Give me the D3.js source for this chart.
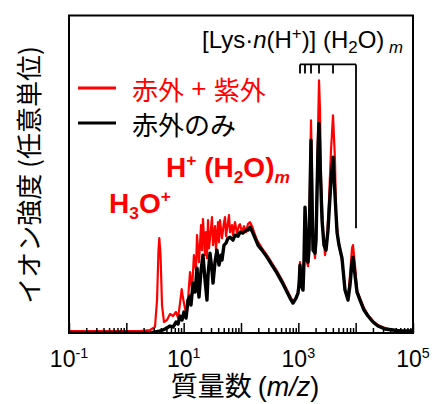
<!DOCTYPE html>
<html><head><meta charset="utf-8">
<script src="https://cdn.jsdelivr.net/npm/d3@7"></script>
<style>body{margin:0;background:#fff} svg{display:block}</style>
</head><body><svg id="c" width="438" height="404"></svg>
<script>
// ---- data (m/z, intensity in arbitrary units) ----
const redMz = [0.1,0.347,1.73,2.59,3.16,3.43,3.64,3.76,3.95,4.19,4.54,5.12,5.78,6.52,7.35,7.97,8.64,9.24,9.74,10.6,11.3,11.9,12.9,14.0,15.1,16.4,17.1,18.5,20.1,20.9,21.7,23.6,24.5,25.5,26.6,27.7,30.0,31.2,32.5,35.2,36.6,39.7,41.3,43.0,46.6,50.5,52.6,54.8,59.3,61.8,64.3,69.7,72.5,78.6,85.2,92.3,96.1,104,113,122,132,144,156,169,190,232,284,347,425,519,635,716,807,911,987,1030,1069,1113,1206,1256,1307,1361,1417,1475,1535,1598,1663,1731,1803,1953,2033,2117,2294,2388,2486,2694,2919,3163,3427,3715,4025,4362,4541,4920,5332,5776,6518,7353,7965,8635,8987,9739,10550,11900,13970,16410,20060,24520,32480,44790,59330,100000];
const redInt = [2,2,2,3,6,33,83,95,78,28,11,13,19,17,21,15,30,44,35,24,18,33,61,43,78,63,98,71,108,83,114,78,101,75,113,85,105,116,88,107,83,111,91,113,95,111,116,97,111,118,101,108,98,111,100,108,109,101,107,101,109,111,107,101,93,85,78,70,62,53,43,37,31,35,41,53,71,53,45,68,118,98,71,67,83,153,213,163,93,75,88,153,253,223,153,103,78,93,133,183,218,173,118,95,83,73,43,36,58,85,88,68,43,35,25,18,12,8,5,3,2,2];
const blackMz = [0.1,2.59,3.95,4.73,5.78,6.52,7.35,7.97,8.64,9.36,10.1,11.0,11.9,12.9,13.4,14.6,15.8,17.1,17.8,18.5,20.1,21.7,23.6,25.5,26.6,28.8,31.2,32.5,35.2,38.1,41.3,44.8,46.6,50.5,54.8,59.3,64.3,72.5,78.6,88.7,96.1,108,122,132,144,156,176,198,232,284,347,425,519,635,716,807,911,987,1030,1069,1113,1206,1256,1307,1361,1417,1475,1535,1663,1731,1803,1953,2033,2200,2294,2388,2590,2800,3040,3290,3715,4025,4362,4730,5122,5776,6518,7353,7965,8635,8987,9739,10550,11900,13970,16410,20060,24520,32480,44790,59330,100000];
const blackInt = [0,0,2,4,7,6,11,9,17,13,21,15,33,37,28,50,41,65,48,36,63,78,53,33,58,80,63,50,71,83,68,78,73,88,90,95,96,93,98,97,101,100,103,103,106,102,95,88,83,76,68,60,51,41,35,30,35,40,48,68,50,43,73,126,103,73,71,83,193,133,83,80,93,183,210,173,113,88,83,103,153,176,138,101,88,75,43,33,48,71,76,58,41,33,23,17,11,7,4,3,2,2];
const tickLabelExps = [-1, 1, 3, 5];
const bracketMz = [1069, 1307, 1663, 2294, 4025];
const bracketEndMz = 10140;
const bracketTop = 269, bracketBottom = 105;
const legendLabels = [["赤外", " + ", "紫外"], ["赤外のみ"]];
const seriesColors = ["#ff0000", "#000000"];

// ---- layout ----
const LAT = "'Liberation Sans', Arial, sans-serif";
const CJK = "'Noto Sans CJK JP', 'Noto Sans CJK SC', sans-serif";
const svg = d3.select("#c");
const M = {l:69, r:413, t:15.5, b:333};
const x = d3.scaleLog().domain([0.1, 1e5]).range([M.l, M.r]);
const y = d3.scaleLinear().domain([0, 318]).range([M.b, M.t]);

svg.append("defs").append("clipPath").attr("id","clip")
  .append("rect").attr("x",M.l).attr("y",M.t).attr("width",M.r-M.l).attr("height",M.b-M.t);

const line = d3.line().x(d=>x(d[0])).y(d=>y(d[1]));
const red = redMz.map((m,i)=>[m, redInt[i]]);
const blk = blackMz.map((m,i)=>[m, blackInt[i]]);
const g = svg.append("g").attr("clip-path","url(#clip)");
g.append("path").datum(red).attr("d",line).attr("fill","none")
  .attr("stroke",seriesColors[0]).attr("stroke-width",2.2).attr("stroke-linejoin","round");
g.append("path").datum(blk).attr("d",line).attr("fill","none")
  .attr("stroke",seriesColors[1]).attr("stroke-width",3.4).attr("stroke-linejoin","round");

// axis ticks (inward)
const allTicks = x.ticks();
const majors = allTicks.filter(t => Math.abs(Math.log10(t) - Math.round(Math.log10(t))) < 1e-9);
const minors = allTicks.filter(t => !majors.includes(t));
const axMaj = svg.append("g").attr("transform",`translate(0,${M.b})`)
  .call(d3.axisBottom(x).tickValues(majors).tickSize(-10).tickFormat(""));
const axMin = svg.append("g").attr("transform",`translate(0,${M.b})`)
  .call(d3.axisBottom(x).tickValues(minors).tickSize(-5).tickFormat(""));
[axMaj, axMin].forEach(a => { a.select(".domain").remove(); a.selectAll("line").attr("stroke","#000").attr("stroke-width",1.5); });

// frame
svg.append("rect").attr("x",M.l).attr("y",M.t).attr("width",M.r-M.l).attr("height",M.b-M.t)
  .attr("fill","none").attr("stroke","#000").attr("stroke-width",2);

// bracket annotation
const bY = y(bracketTop);
svg.append("line").attr("x1",x(bracketMz[0])).attr("x2",x(bracketEndMz)).attr("y1",bY).attr("y2",bY)
  .attr("stroke","#000").attr("stroke-width",1.8);
svg.append("line").attr("x1",x(bracketEndMz)).attr("x2",x(bracketEndMz)).attr("y1",bY).attr("y2",y(bracketBottom))
  .attr("stroke","#000").attr("stroke-width",1.8);
svg.selectAll(".bt").data(bracketMz).join("line").attr("class","bt")
  .attr("x1",d=>x(d)).attr("x2",d=>x(d)).attr("y1",bY).attr("y2",bY+9)
  .attr("stroke","#000").attr("stroke-width",1.8);

// rich text helper
function rich(parent, px, py, fs, parts, attrs, ss) {
  ss = ss || 0.62;
  const t = parent.append("text").attr("x",px).attr("y",py).attr("font-size",fs);
  Object.entries(attrs||{}).forEach(([k,v])=>t.attr(k,v));
  let off = 0;
  parts.forEach(p => {
    const s = t.append("tspan").text(p.t);
    let target = 0, size = fs;
    if (p.sup) { target = -fs*0.38; size = fs*ss; }
    if (p.sub) { target = fs*0.22; size = fs*ss; }
    s.attr("font-size", size).attr("dy", target - off);
    off = target;
    if (p.i) s.attr("font-style","italic");
    if (p.f) s.attr("font-family", p.f);
  });
  return t;
}

// title annotation
rich(svg, 202, 48, 24, [
  {t:"[Lys·"},{t:"n",i:1},{t:"(H"},{t:"+",sup:1},{t:")] (H"},{t:"2",sub:1},{t:"O)"},{t:" m",sub:1,i:1}
], {"font-family":LAT, fill:"#000"}, 0.7);

// legend
const legY = [88, 123];
legendLabels.forEach((parts,i) => {
  svg.append("line").attr("x1",78).attr("x2",116).attr("y1",legY[i]).attr("y2",legY[i])
    .attr("stroke",seriesColors[i]).attr("stroke-width",3);
  const t = svg.append("text").attr("x",132).attr("y",legY[i]).attr("dominant-baseline","central")
    .attr("font-family",CJK).attr("font-size",26).attr("fill",seriesColors[i]);
  parts.forEach(p => {
    const s = t.append("tspan").text(p);
    if (p.includes("+")) s.attr("font-family",LAT).attr("xml:space","preserve");
  });
});

// peak labels
rich(svg, 166, 177, 28, [{t:"H"},{t:"+",sup:1},{t:" (H"},{t:"2",sub:1},{t:"O)"},{t:"m",sub:1,i:1}],
  {"font-family":LAT, "font-weight":"bold", fill:"#ff0000"});
rich(svg, 109, 213, 28, [{t:"H"},{t:"3",sub:1},{t:"O"},{t:"+",sup:1}],
  {"font-family":LAT, "font-weight":"bold", fill:"#ff0000"});

// tick labels
tickLabelExps.forEach(e => {
  rich(svg, x(Math.pow(10,e)), 367, 23, [{t:"10"},{t:String(e),sup:1}],
    {"font-family":LAT, "text-anchor":"middle", fill:"#000"});
});

// axis titles
const xt = svg.append("text").attr("x",245).attr("y",396).attr("text-anchor","middle")
  .attr("font-size",27).attr("font-family",CJK);
xt.append("tspan").text("質量数 ");
xt.append("tspan").attr("font-family",LAT).text("(");
xt.append("tspan").attr("font-family",LAT).attr("font-style","italic").text("m/z");
xt.append("tspan").attr("font-family",LAT).text(")");

svg.append("text").attr("transform","translate(27,175) rotate(-90)")
  .attr("text-anchor","middle").attr("dominant-baseline","central")
  .attr("font-size",26).attr("font-family",CJK).text("イオン強度 (任意単位)");
</script></body></html>
